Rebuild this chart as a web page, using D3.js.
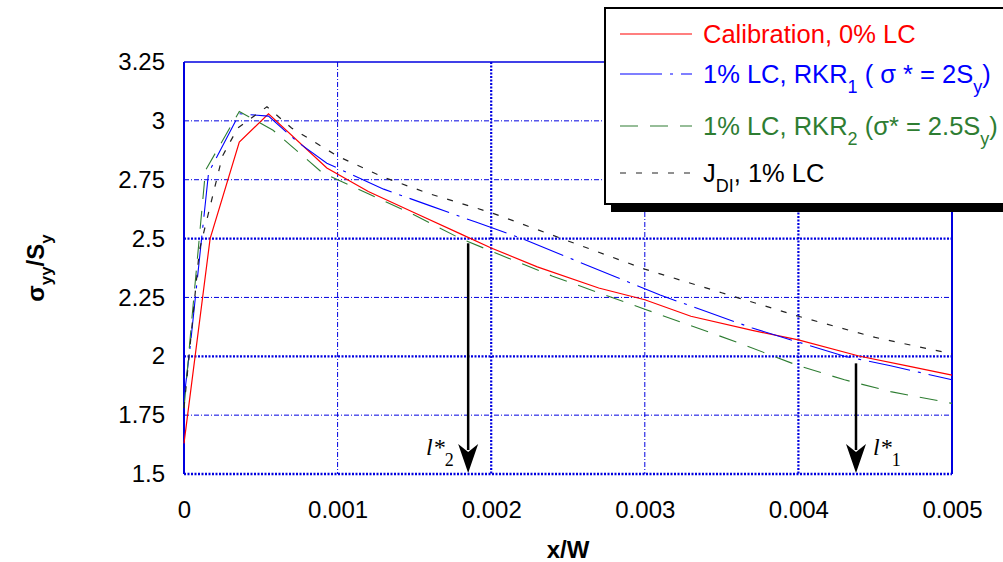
<!DOCTYPE html>
<html lang="en">
<head>
	<meta charset="UTF-8">
	<title>Stress ratio vs x/W</title>
	<script type="text/javascript" src="https://cdn.jsdelivr.net/npm/d3@7/dist/d3.min.js"></script>
	<style>
		body { margin: 0; background: #fff; }
		text { font-family: "Liberation Sans", Arial, sans-serif; }
	</style>
</head>
<body>
	<div class="chart"></div>
	<script type="text/javascript">
		// data
		var xTicks = [0, 0.001, 0.002, 0.003, 0.004, 0.005];
		var yTicks = [1.5, 1.75, 2, 2.25, 2.5, 2.75, 3, 3.25];

		var calX = [0, 0.00017, 0.00036, 0.00055, 0.00093, 0.0012, 0.0015, 0.0018, 0.002, 0.0023, 0.0027, 0.003, 0.0033, 0.0037, 0.004, 0.0044, 0.0047, 0.005];
		var calY = [1.63, 2.5, 2.91, 3.03, 2.80, 2.70, 2.61, 2.52, 2.46, 2.38, 2.29, 2.24, 2.17, 2.11, 2.07, 2.00, 1.96, 1.92];

		var rkr1X = [0, 0.00004, 0.00016, 0.00036, 0.00055, 0.00074, 0.00093, 0.0013, 0.0016, 0.0019, 0.0022, 0.0025, 0.0028, 0.0031, 0.0034, 0.0037, 0.004, 0.0043, 0.0046, 0.005];
		var rkr1Y = [1.82, 2.04, 2.78, 3.03, 3.02, 2.91, 2.82, 2.71, 2.64, 2.57, 2.50, 2.42, 2.34, 2.26, 2.19, 2.12, 2.06, 2.00, 1.96, 1.90];

		var rkr2X = [0, 0.00005, 0.00014, 0.00036, 0.00058, 0.0009, 0.0012, 0.0015, 0.0018, 0.0021, 0.0024, 0.0027, 0.003, 0.0033, 0.0036, 0.004, 0.0043, 0.0046, 0.005];
		var rkr2Y = [1.78, 2.15, 2.79, 3.04, 2.96, 2.78, 2.69, 2.60, 2.50, 2.42, 2.34, 2.27, 2.20, 2.13, 2.06, 1.96, 1.90, 1.85, 1.80];

		var jdiX = [0, 0.0001, 0.00025, 0.00035, 0.00054, 0.0007, 0.001, 0.0013, 0.0016, 0.002, 0.0025, 0.003, 0.0035, 0.004, 0.0045, 0.005];
		var jdiY = [1.78, 2.45, 2.85, 2.97, 3.06, 2.97, 2.85, 2.76, 2.69, 2.61, 2.49, 2.37, 2.27, 2.17, 2.08, 2.01];

		// arrows: x position, start value
		var arrowX = [0.00185, 0.004375];
		var arrowY = [2.48, 1.97];
		var arrowSub = ['2', '1'];

		var W = 1003, H = 562;
		var svg = d3.select('.chart').append('svg')
			.attr('width', W).attr('height', H);

		var x = d3.scaleLinear().domain([0, 0.005]).range([184, 952]);
		var y = d3.scaleLinear().domain([1.5, 3.25]).range([474, 62]);

		var blue = '#0000e0';

		// grid
		var isMajorX = function(d){ return d === 0.002 || d === 0.004; };
		var isMajorY = function(d){ return d === 2 || d === 2.5; };

		svg.selectAll('.gx').data(xTicks.slice(1, 5)).enter().append('line')
			.attr('x1', function(d){ return x(d); }).attr('x2', function(d){ return x(d); })
			.attr('y1', y(3.25)).attr('y2', y(1.5))
			.attr('stroke', blue)
			.attr('stroke-width', function(d){ return isMajorX(d) ? 2.2 : 1; })
			.attr('stroke-dasharray', function(d){ return isMajorX(d) ? '2,1.5' : '5,2,1,2'; });

		svg.selectAll('.gy').data(yTicks.slice(1, 7)).enter().append('line')
			.attr('x1', x(0)).attr('x2', x(0.005))
			.attr('y1', function(d){ return y(d); }).attr('y2', function(d){ return y(d); })
			.attr('stroke', blue)
			.attr('stroke-width', function(d){ return isMajorY(d) ? 2.2 : 1; })
			.attr('stroke-dasharray', function(d){ return isMajorY(d) ? '2,1.5' : '5,2,1,2'; });

		// frame
		svg.append('line').attr('x1', x(0)).attr('x2', x(0.005)).attr('y1', y(1.5)).attr('y2', y(1.5))
			.attr('stroke', blue).attr('stroke-width', 2.5).attr('stroke-dasharray', '2,1.5');
		svg.append('line').attr('x1', x(0)).attr('x2', x(0.005)).attr('y1', y(3.25)).attr('y2', y(3.25))
			.attr('stroke', blue).attr('stroke-width', 1.5);
		svg.append('line').attr('x1', x(0)).attr('x2', x(0)).attr('y1', y(3.25)).attr('y2', y(1.5))
			.attr('stroke', blue).attr('stroke-width', 2);
		svg.append('line').attr('x1', x(0.005)).attr('x2', x(0.005)).attr('y1', y(3.25)).attr('y2', y(1.5))
			.attr('stroke', blue).attr('stroke-width', 2);

		// axes (labels only)
		var xAxis = d3.axisBottom(x).tickValues(xTicks).tickSize(0).tickPadding(27)
			.tickFormat(function(d){ return String(d); });
		var gx = svg.append('g').attr('transform', 'translate(0,' + y(1.5) + ')').call(xAxis);
		gx.select('.domain').remove();
		gx.selectAll('text').attr('font-size', 24).attr('fill', '#000')
			.style('font-family', '"Liberation Sans", Arial, sans-serif');

		var yAxis = d3.axisLeft(y).tickValues(yTicks).tickSize(0).tickPadding(19)
			.tickFormat(function(d){ return String(d); });
		var gy = svg.append('g').attr('transform', 'translate(' + x(0) + ',0)').call(yAxis);
		gy.select('.domain').remove();
		gy.selectAll('text').attr('font-size', 24).attr('fill', '#000')
			.style('font-family', '"Liberation Sans", Arial, sans-serif');

		// series
		var series = [
			{ xs: calX, ys: calY, color: '#ff0000', dash: null, w: 1.2 },
			{ xs: rkr1X, ys: rkr1Y, color: '#0000ff', dash: '42,8,3,8', w: 1.1 },
			{ xs: rkr2X, ys: rkr2Y, color: '#2e7d32', dash: '18,12', w: 1.1 },
			{ xs: jdiX, ys: jdiY, color: '#222', dash: '6,10', w: 1.2 }
		];
		var line = d3.line().x(function(d){ return x(d[0]); }).y(function(d){ return y(d[1]); });
		svg.selectAll('.series').data(series).enter().append('path')
			.attr('d', function(s){ return line(d3.zip(s.xs, s.ys)); })
			.attr('fill', 'none')
			.attr('stroke', function(s){ return s.color; })
			.attr('stroke-width', function(s){ return s.w; })
			.attr('stroke-dasharray', function(s){ return s.dash; });

		// arrows
		arrowX.forEach(function(ax, i){
			var px = x(ax);
			svg.append('line').attr('x1', px).attr('x2', px)
				.attr('y1', y(arrowY[i])).attr('y2', 450)
				.attr('stroke', '#000').attr('stroke-width', 2.5);
			svg.append('path')
				.attr('d', 'M' + (px - 10) + ',444 L' + px + ',473 L' + (px + 10) + ',444 L' + px + ',452 Z')
				.attr('fill', '#000');
		});
		// l* labels
		var lab = svg.selectAll('.lab').data([[426, 455, arrowSub[0]], [873, 455, arrowSub[1]]]).enter().append('text')
			.attr('x', function(d){ return d[0]; }).attr('y', function(d){ return d[1]; })
			.style('font-family', '"Liberation Serif", "Times New Roman", serif')
			.attr('font-size', 24);
		lab.append('tspan').attr('font-style', 'italic').text('l*');
		lab.append('tspan').attr('dy', 11).attr('font-size', 18).text(function(d){ return d[2]; });

		// axis titles
		svg.append('text').attr('x', 568).attr('y', 558).attr('text-anchor', 'middle')
			.attr('font-size', 24).attr('font-weight', 'bold').text('x/W');

		var yt = svg.append('text').attr('transform', 'translate(44,268) rotate(-90)')
			.attr('text-anchor', 'middle').attr('font-size', 24).attr('font-weight', 'bold');
		yt.append('tspan').text('σ');
		yt.append('tspan').attr('dy', 8).attr('font-size', 17).text('yy');
		yt.append('tspan').attr('dy', -8).text('/S');
		yt.append('tspan').attr('dy', 8).attr('font-size', 17).text('y');

		// legend
		var lg = svg.append('g');
		lg.append('rect').attr('x', 611).attr('y', 16).attr('width', 420).attr('height', 196).attr('fill', '#000');
		lg.append('rect').attr('x', 605).attr('y', 8).attr('width', 420).attr('height', 196)
			.attr('fill', '#fff').attr('stroke', '#000').attr('stroke-width', 2);

		var rowsY = [34, 74, 126, 173];
		series.forEach(function(s, i){
			lg.append('line').attr('x1', 620).attr('x2', 692).attr('y1', rowsY[i]).attr('y2', rowsY[i])
				.attr('stroke', s.color).attr('stroke-width', s.w)
				.attr('stroke-dasharray', s.dash);
		});
		var legText = [
			[['Calibration, 0% LC', 0]],
			[['1% LC, RKR', 0], ['1', 1], [' ( σ * = 2S', -1], ['y', 1], [')', -1]],
			[['1% LC, RKR', 0], ['2', 1], [' (σ* = 2.5S', -1], ['y', 1], [')', -1]],
			[['J', 0], ['DI', 1], [', 1% LC', -1]]
		];
		legText.forEach(function(parts, i){
			var t = lg.append('text').attr('x', 703).attr('y', rowsY[i] + 9)
				.attr('font-size', 25.5).attr('fill', series[i].color === '#222' ? '#000' : series[i].color);
			parts.forEach(function(p){
				t.append('tspan')
					.attr('dy', p[1] * 10)
					.attr('font-size', p[1] === 1 ? 18 : 25.5)
					.text(p[0]);
			});
		});
	</script>
</body>
</html>
